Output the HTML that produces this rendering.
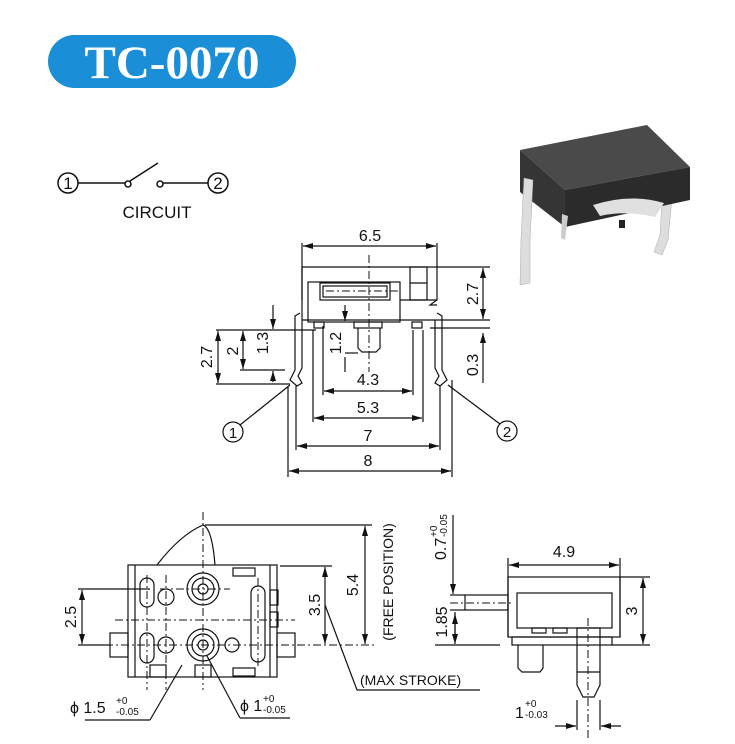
<!DOCTYPE html>
<html><head><meta charset="utf-8"><style>
html,body{margin:0;padding:0;background:#fff;}
svg{display:block;}
text{font-family:"Liberation Sans",sans-serif;fill:#111;}
</style></head><body>
<svg width="735" height="744" viewBox="0 0 735 744" xmlns="http://www.w3.org/2000/svg">
<defs>
<marker id="a" viewBox="0 0 10 6" refX="10" refY="3" markerWidth="10" markerHeight="6" orient="auto-start-reverse" markerUnits="userSpaceOnUse"><path d="M0,0 L10,3 L0,6 Z" fill="#111"/></marker>
</defs>
<!-- title -->
<rect x="48" y="35" width="248" height="53" rx="26.5" fill="#1a8fd8"/>
<text x="172" y="78" text-anchor="middle" style="font-family:'Liberation Serif',serif;font-weight:bold;font-size:47px;fill:#fff">TC-0070</text>

<!-- circuit -->
<g stroke="#111" stroke-width="1.5" fill="none">
<circle cx="68" cy="183" r="10"/><circle cx="218" cy="183" r="10"/>
<line x1="78" y1="183" x2="125" y2="183"/><circle cx="128" cy="184" r="3"/>
<line x1="130" y1="181" x2="158" y2="163"/>
<circle cx="160" cy="184" r="3"/><line x1="163" y1="183" x2="208" y2="183"/>
</g>
<text x="68" y="189" text-anchor="middle" font-size="17">1</text>
<text x="218" y="189" text-anchor="middle" font-size="17">2</text>
<text x="157" y="218" text-anchor="middle" font-size="17">CIRCUIT</text>

<!-- photo -->
<path d="M662,200 L672,198 L668,240 L662,255 L654,252 L660,235 Z" fill="#ddd" stroke="#aaa" stroke-width="0.5"/>
<polygon points="520,150 647,125 690,167 565,190" fill="#4a4a4a"/>
<polygon points="565,190 690,167 690,200 565,227" fill="#2b2b2b"/>
<polygon points="520,150 565,190 565,227 520,192" fill="#353535"/>
<path d="M593,205 Q630,193 664,203 L655,217 Q625,210 600,216 Z" fill="#e0e0e0"/>
<rect x="619" y="220" width="6" height="8" fill="#222"/>
<path d="M524,178 L533,180 L530,240 L530,283 L520,285 L521,240 Z" fill="#ddd" stroke="#aaa" stroke-width="0.5"/>
<path d="M562,214 L568,216 L565,240 L561,238 Z" fill="#ccc"/>

<!-- front view -->
<g stroke="#111" stroke-width="1.2" fill="none">
<line x1="302" y1="243" x2="302" y2="300"/><line x1="437" y1="243" x2="437" y2="267"/>
<line x1="303" y1="246" x2="436" y2="246" marker-start="url(#a)" marker-end="url(#a)"/>
<path d="M302,267 L437,267 L437,300 L430,305 L437,305"/>
<line x1="302" y1="267" x2="302" y2="320"/>
<line x1="302" y1="320" x2="437" y2="320"/>
<rect x="308" y="282" width="92" height="40"/>
<rect x="320" y="283" width="70" height="17"/><rect x="323" y="286" width="64" height="11"/>
<rect x="410" y="267" width="17" height="33"/><line x1="410" y1="283" x2="427" y2="283"/>
<line x1="400" y1="300" x2="437" y2="300"/>
<rect x="314" y="322" width="10" height="6"/><rect x="412" y="322" width="10" height="6"/>
<rect x="354" y="322" width="28" height="6"/>
<path d="M358,328 L358,348 L362,352 L376,352 L380,348 L380,328"/>
<path d="M300,313 L295,316 L295,370 L290,380 L297,386 L302,383 L298,376 L302,368 L302,320"/>
<path d="M437,313 L442,316 L442,370 L447,380 L440,386 L435,383 L439,376 L435,368 L435,320"/>
<line x1="437" y1="320" x2="490" y2="320"/><line x1="437" y1="267" x2="490" y2="267"/>
<line x1="430" y1="328" x2="490" y2="328"/>
<line x1="483" y1="268" x2="483" y2="319" marker-start="url(#a)" marker-end="url(#a)"/>
<line x1="483" y1="383" x2="483" y2="333" marker-end="url(#a)"/>
<line x1="216" y1="330" x2="316" y2="330"/><line x1="216" y1="384" x2="290" y2="384"/>
<line x1="218" y1="331" x2="218" y2="383" marker-start="url(#a)" marker-end="url(#a)"/>
<line x1="243" y1="331" x2="243" y2="369" marker-start="url(#a)" marker-end="url(#a)"/>
<line x1="240" y1="370" x2="285" y2="370"/>
<line x1="273" y1="305" x2="273" y2="329" marker-end="url(#a)"/>
<line x1="273" y1="382" x2="273" y2="371" marker-end="url(#a)"/>
<line x1="345" y1="305" x2="345" y2="321" marker-end="url(#a)"/>
<line x1="345" y1="357" x2="345" y2="372"/>
<line x1="345" y1="353" x2="358" y2="353"/>
<line x1="323" y1="326" x2="323" y2="395"/><line x1="413" y1="330" x2="413" y2="395"/>
<line x1="324" y1="391" x2="412" y2="391" marker-start="url(#a)" marker-end="url(#a)"/>
<line x1="313" y1="330" x2="313" y2="422"/><line x1="423" y1="330" x2="423" y2="422"/>
<line x1="314" y1="418" x2="422" y2="418" marker-start="url(#a)" marker-end="url(#a)"/>
<line x1="296" y1="386" x2="296" y2="450"/><line x1="440" y1="386" x2="440" y2="450"/>
<line x1="297" y1="446" x2="439" y2="446" marker-start="url(#a)" marker-end="url(#a)"/>
<line x1="288" y1="386" x2="288" y2="477"/><line x1="452" y1="380" x2="452" y2="477"/>
<line x1="289" y1="471" x2="451" y2="471" marker-start="url(#a)" marker-end="url(#a)"/>
<line x1="240" y1="425" x2="290" y2="385"/><line x1="500" y1="424" x2="448" y2="385"/>
<circle cx="233" cy="432" r="10"/><circle cx="507" cy="431" r="10"/>
</g>
<line x1="369" y1="255" x2="369" y2="372" stroke="#111" stroke-width="1" stroke-dasharray="8,3,2,3"/>
<line x1="326" y1="291" x2="398" y2="291" stroke="#111" stroke-width="1" stroke-dasharray="8,3,2,3"/>
<g font-size="16">
<text x="370" y="241" text-anchor="middle">6.5</text>
<text x="368" y="385" text-anchor="middle">4.3</text>
<text x="368" y="413" text-anchor="middle">5.3</text>
<text x="368" y="441" text-anchor="middle">7</text>
<text x="368" y="466" text-anchor="middle">8</text>
<text transform="translate(478,294) rotate(-90)" text-anchor="middle">2.7</text>
<text transform="translate(478,365) rotate(-90)" text-anchor="middle">0.3</text>
<text transform="translate(212,357) rotate(-90)" text-anchor="middle">2.7</text>
<text transform="translate(238,351) rotate(-90)" text-anchor="middle">2</text>
<text transform="translate(268,343) rotate(-90)" text-anchor="middle">1.3</text>
<text transform="translate(341,343) rotate(-90)" text-anchor="middle">1.2</text>
<text x="233" y="438" text-anchor="middle" font-size="15">1</text>
<text x="507" y="437" text-anchor="middle" font-size="15">2</text>
</g>

<!-- bottom left view -->
<g stroke="#111" stroke-width="1.2" fill="none">
<rect x="128" y="565" width="149" height="112"/>
<line x1="135" y1="565" x2="135" y2="677"/><line x1="270" y1="565" x2="270" y2="677"/>
<path d="M157,565 Q180,535 203,525 Q212,528 215,565"/>
<line x1="205" y1="525" x2="372" y2="525"/>
<line x1="280" y1="566" x2="332" y2="566"/>
<line x1="365" y1="526" x2="365" y2="644" marker-start="url(#a)" marker-end="url(#a)"/>
<line x1="325" y1="567" x2="325" y2="644" marker-start="url(#a)" marker-end="url(#a)"/>
<line x1="78" y1="589" x2="150" y2="589"/><line x1="78" y1="645" x2="110" y2="645"/>
<line x1="82" y1="590" x2="82" y2="644" marker-start="url(#a)" marker-end="url(#a)"/>
<circle cx="203" cy="589" r="16"/><circle cx="203" cy="589" r="11"/><circle cx="203" cy="589" r="5"/>
<circle cx="203" cy="645" r="16"/><circle cx="203" cy="645" r="11"/><circle cx="203" cy="645" r="5"/>
<circle cx="166" cy="597" r="8"/><circle cx="166" cy="645" r="8"/><circle cx="232" cy="645" r="7"/>
<rect x="140" y="578" width="14" height="29" rx="7"/><rect x="140" y="633" width="14" height="30" rx="7"/>
<rect x="251" y="586" width="14" height="76" rx="7"/>
<rect x="110" y="633" width="18" height="24"/><rect x="277" y="633" width="18" height="24"/>
<rect x="150" y="665" width="16" height="12"/><rect x="195" y="665" width="16" height="12"/>
<rect x="233" y="568" width="22" height="8"/><rect x="233" y="668" width="22" height="8"/>
<rect x="270" y="590" width="8" height="15"/><rect x="270" y="612" width="8" height="15"/>
<line x1="325" y1="605" x2="357" y2="690"/><line x1="357" y1="690" x2="480" y2="690"/>
<line x1="85" y1="720" x2="150" y2="720"/><line x1="150" y1="720" x2="182" y2="665"/>
<line x1="240" y1="718" x2="290" y2="718"/><line x1="240" y1="718" x2="207" y2="656"/>
</g>
<g stroke="#111" stroke-width="1" stroke-dasharray="8,3,2,3">
<line x1="203" y1="512" x2="203" y2="690"/>
<line x1="166" y1="575" x2="166" y2="690"/>
<line x1="147" y1="575" x2="147" y2="690"/>
<line x1="258" y1="578" x2="258" y2="668"/>
<line x1="115" y1="620" x2="295" y2="620"/>
<line x1="105" y1="645" x2="375" y2="645"/>
<line x1="160" y1="589" x2="230" y2="589"/>
</g>
<g font-size="16">
<text transform="translate(76,617) rotate(-90)" text-anchor="middle">2.5</text>
<text transform="translate(320,605) rotate(-90)" text-anchor="middle">3.5</text>
<text transform="translate(358,585) rotate(-90)" text-anchor="middle">5.4</text>
<text transform="translate(393,582) rotate(-90)" text-anchor="middle" font-size="14">(FREE POSITION)</text>
<text x="360" y="685" font-size="14">(MAX STROKE)</text>
<text x="70" y="713">ϕ 1.5</text><text x="116" y="704" font-size="10">+0</text><text x="116" y="715" font-size="10">-0.05</text>
<text x="240" y="711">ϕ 1</text><text x="263" y="702" font-size="10">+0</text><text x="263" y="713" font-size="10">-0.05</text>
</g>

<!-- right side view -->
<g stroke="#111" stroke-width="1.2" fill="none">
<line x1="508" y1="558" x2="508" y2="637"/><line x1="620" y1="558" x2="620" y2="637"/>
<line x1="509" y1="565" x2="619" y2="565" marker-start="url(#a)" marker-end="url(#a)"/>
<rect x="508" y="577" width="112" height="60"/>
<rect x="517" y="593" width="95" height="35"/>
<rect x="512" y="637" width="100" height="8"/>
<rect x="465" y="595" width="43" height="15"/>
<line x1="620" y1="577" x2="650" y2="577"/><line x1="612" y1="645" x2="650" y2="645"/>
<line x1="643" y1="578" x2="643" y2="644" marker-start="url(#a)" marker-end="url(#a)"/>
<line x1="435" y1="645" x2="500" y2="645"/>
<line x1="450" y1="595" x2="465" y2="595"/><line x1="450" y1="610" x2="465" y2="610"/>
<line x1="455" y1="612" x2="455" y2="644" marker-end="url(#a)"/>
<line x1="453" y1="515" x2="453" y2="594" marker-end="url(#a)"/>
<line x1="455" y1="640" x2="455" y2="614" marker-end="url(#a)"/>
<rect x="532" y="628" width="14" height="5"/><rect x="553" y="628" width="14" height="5"/>
<path d="M577,628 L577,685 L583,697 L594,697 L600,685 L600,628 Z"/>
<line x1="577" y1="672" x2="600" y2="672"/>
<path d="M518,645 L518,668 L522,672 L540,672 L543,668 L543,645"/>
<line x1="577" y1="700" x2="577" y2="730"/><line x1="600" y1="700" x2="600" y2="730"/>
<line x1="555" y1="726" x2="576" y2="726" marker-end="url(#a)"/>
<line x1="621" y1="726" x2="601" y2="726" marker-end="url(#a)"/>
</g>
<g stroke="#111" stroke-width="1" stroke-dasharray="8,3,2,3">
<line x1="588" y1="618" x2="588" y2="740"/>
<line x1="450" y1="603" x2="512" y2="603"/>
</g>
<g font-size="16">
<text x="564" y="557" text-anchor="middle">4.9</text>
<text transform="translate(637,611) rotate(-90)" text-anchor="middle">3</text>
<text transform="translate(447,622) rotate(-90)" text-anchor="middle">1.85</text>
<text transform="translate(446,560) rotate(-90)">0.7</text>
<text transform="translate(437,537) rotate(-90)" font-size="10">+0</text>
<text transform="translate(447,537) rotate(-90)" font-size="10">-0.05</text>
<text x="515" y="718">1</text><text x="525" y="707" font-size="10">+0</text><text x="525" y="718" font-size="10">-0.03</text>
</g>
</svg>
</body></html>
